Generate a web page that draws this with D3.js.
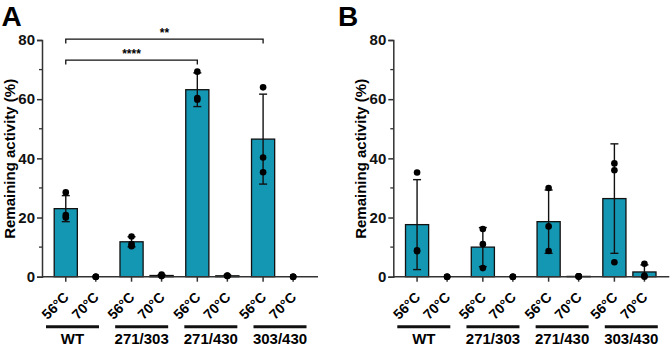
<!DOCTYPE html>
<html>
<head>
<meta charset="utf-8">
<script src="https://cdn.jsdelivr.net/npm/d3@7"></script>
<style>
  body { margin: 0; background: #fff; }
  svg { display: block; font-family: Arial, "Liberation Sans", sans-serif; }
</style>
</head>
<body>
<div id="chart"></div>
<script>
//Datos
const groups = ['WT', '271/303', '271/430', '303/430'];
const temps = ['56°C', '70°C'];
const yTicks = [0, 20, 40, 60, 80];
const yMinorTicks = [10, 30, 50, 70];

//Panel A: media, desviación y réplicas (orden WT56, WT70, 271/303 56, ...)
const meanA = [23.0, 0, 11.8, 0.4, 63.2, 0.3, 46.5, 0];
const sdA = [4.4, 0, 1.7, 0.3, 5.7, 0.2, 15.2, 0];
const pointsA = [
    [28.5, 20.8, 20.0], [0, 0, 0],
    [13.6, 11.0, 10.3], [0.7, 0.3, 0.2],
    [69.3, 59.8, 60.4], [0.4, 0.3, 0.2],
    [64.0, 40.3, 35.3], [0, 0, 0]
];
const sigA = [
    { from: 'WT', to: '271/430', level: 73.2, label: '****' },
    { from: 'WT', to: '303/430', level: 80.3, label: '**' }
];

//Panel B
const meanB = [17.6, 0, 10.0, 0, 18.6, 0.1, 26.4, 1.6];
const sdB = [15.2, 0, 6.6, 0, 10.7, 0, 18.5, 2.4];
const pointsB = [
    [35.2, 8.9, 8.6], [0, 0, 0],
    [16.1, 11.0, 2.9], [0, 0, 0],
    [30.0, 17.0, 8.7], [0.1, 0.1, 0.1],
    [38.3, 36.0, 4.9], [4.4, 0.4, 0]
];
const sigB = [];

//Colores
const COLOR_BAR = '#1497b3',
      COLOR_AXIS = '#333';

let W = 670, H = 346;

let svg = d3.select('#chart').append('svg')
    .attr('width', W)
    .attr('height', H);

function drawPanel(axisX, letter, letterX, means, sds, points, sigs) {
    let top = 40, bottom = 276.7, axisLen = 276;

    let g = svg.append('g');

    let y = d3.scaleLinear().domain([0, 80]).range([bottom, top]);

    let x0 = d3.scaleBand()
        .domain(groups)
        .range([axisX + 5.9, axisX + 269]);

    let x1 = d3.scaleBand()
        .domain(temps)
        .range([0, x0.bandwidth()])
        .paddingInner(0.23)
        .paddingOuter(0.21);

    //Posición de las líneas de grupo bajo las etiquetas
    let xLine = d3.scalePoint()
        .domain(groups)
        .range([axisX + 30.5, axisX + 238]);

    let rows = [];
    groups.forEach(function(gr, i) {
        temps.forEach(function(t, j) {
            let k = i * 2 + j;
            rows.push({ group: gr, temp: t, mean: means[k], sd: sds[k], pts: points[k] });
        });
    });
    let cx = function(d) { return x0(d.group) + x1(d.temp) + x1.bandwidth() / 2; };

    //Letra del panel
    g.append('text')
        .attr('x', letterX)
        .attr('y', 26)
        .attr('font-size', 28)
        .attr('font-weight', 'bold')
        .text(letter);

    //Barras
    g.selectAll('.bar')
        .data(rows)
        .enter()
        .append('rect')
        .attr('class', 'bar')
        .attr('x', function(d) { return x0(d.group) + x1(d.temp); })
        .attr('width', x1.bandwidth())
        .attr('y', function(d) { return y(d.mean); })
        .attr('height', function(d) { return y(0) - y(d.mean); })
        .attr('fill', COLOR_BAR)
        .attr('stroke', '#111')
        .attr('stroke-width', 1.3);

    //Barras de error
    let err = g.selectAll('.err')
        .data(rows.filter(function(d) { return d.sd > 0; }))
        .enter()
        .append('g')
        .attr('class', 'err')
        .attr('stroke', '#111')
        .attr('stroke-width', 1.4);

    err.append('line')
        .attr('x1', cx).attr('x2', cx)
        .attr('y1', function(d) { return y(Math.max(0, d.mean - d.sd)); })
        .attr('y2', function(d) { return y(d.mean + d.sd); });
    err.append('line')
        .attr('x1', function(d) { return cx(d) - 4; })
        .attr('x2', function(d) { return cx(d) + 4; })
        .attr('y1', function(d) { return y(d.mean + d.sd); })
        .attr('y2', function(d) { return y(d.mean + d.sd); });
    err.append('line')
        .attr('x1', function(d) { return cx(d) - 4; })
        .attr('x2', function(d) { return cx(d) + 4; })
        .attr('y1', function(d) { return y(Math.max(0, d.mean - d.sd)); })
        .attr('y2', function(d) { return y(Math.max(0, d.mean - d.sd)); });

    //Ejes
    let yAxis = g.append('g')
        .attr('transform', 'translate(' + axisX + ',0)')
        .call(d3.axisLeft(y).tickValues(yTicks).tickSize(5).tickPadding(2));
    yAxis.select('.domain').attr('stroke', COLOR_AXIS).attr('stroke-width', 1.5);
    yAxis.selectAll('.tick line').attr('stroke', COLOR_AXIS).attr('stroke-width', 1.5);
    yAxis.selectAll('.tick text')
        .attr('font-size', 15)
        .attr('font-weight', 'bold')
        .attr('font-family', 'Arial, "Liberation Sans", sans-serif')
        .attr('fill', '#111');

    g.append('g')
        .selectAll('line')
        .data(yMinorTicks)
        .enter()
        .append('line')
        .attr('x1', axisX - 3).attr('x2', axisX)
        .attr('y1', function(d) { return y(d); })
        .attr('y2', function(d) { return y(d); })
        .attr('stroke', COLOR_AXIS)
        .attr('stroke-width', 1.3);

    g.append('line')
        .attr('x1', axisX).attr('x2', axisX + axisLen)
        .attr('y1', y(0)).attr('y2', y(0))
        .attr('stroke', COLOR_AXIS)
        .attr('stroke-width', 1.5);

    g.selectAll('.xtick')
        .data(rows)
        .enter()
        .append('line')
        .attr('class', 'xtick')
        .attr('x1', cx).attr('x2', cx)
        .attr('y1', y(0)).attr('y2', y(0) + 5)
        .attr('stroke', COLOR_AXIS)
        .attr('stroke-width', 1.5);

    g.selectAll('.xlabel')
        .data(rows)
        .enter()
        .append('text')
        .attr('class', 'xlabel')
        .attr('transform', function(d) { return 'translate(' + (cx(d) + 0.5) + ',' + (y(0) + 18) + ') rotate(-45)'; })
        .attr('text-anchor', 'end')
        .attr('dy', '0.35em')
        .attr('font-size', 14)
        .attr('font-weight', 'bold')
        .text(function(d) { return d.temp; });

    //Líneas y nombres de grupo
    g.selectAll('.gline')
        .data(groups)
        .enter()
        .append('line')
        .attr('class', 'gline')
        .attr('x1', function(d) { return xLine(d) - 26.5; })
        .attr('x2', function(d) { return xLine(d) + 26.5; })
        .attr('y1', 326.7).attr('y2', 326.7)
        .attr('stroke', '#111')
        .attr('stroke-width', 3);

    g.selectAll('.glabel')
        .data(groups)
        .enter()
        .append('text')
        .attr('class', 'glabel')
        .attr('x', function(d) { return xLine(d); })
        .attr('y', 343.5)
        .attr('text-anchor', 'middle')
        .attr('font-size', 15)
        .attr('font-weight', 'bold')
        .text(function(d) { return d; });

    //Puntos de réplica
    rows.forEach(function(d) {
        g.selectAll(null)
            .data(d.pts)
            .enter()
            .append('circle')
            .attr('cx', cx(d))
            .attr('cy', function(v) { return y(v); })
            .attr('r', 3.3)
            .attr('fill', '#000');
    });

    //Título del eje Y
    g.append('text')
        .attr('transform', 'translate(' + (axisX - 32.5) + ',' + ((top + bottom) / 2 + 0.5) + ') rotate(-90)')
        .attr('text-anchor', 'middle')
        .attr('dy', '0.35em')
        .attr('font-size', 15)
        .attr('font-weight', 'bold')
        .text('Remaining activity (%)');

    //Significancia
    sigs.forEach(function(s) {
        let xa = x0(s.from) + x1(temps[0]) + x1.bandwidth() / 2,
            xb = x0(s.to) + x1(temps[0]) + x1.bandwidth() / 2,
            yy = y(s.level);
        g.append('path')
            .attr('d', 'M' + xa + ',' + (yy + 4.5) + 'V' + yy + 'H' + xb + 'V' + (yy + 4.5))
            .attr('fill', 'none')
            .attr('stroke', '#111')
            .attr('stroke-width', 1.3);
        g.append('text')
            .attr('x', (xa + xb) / 2)
            .attr('y', yy - 2)
            .attr('text-anchor', 'middle')
            .attr('font-size', 12)
            .attr('font-weight', 'bold')
            .text(s.label);
    });
}

drawPanel(42, 'A', 1.5, meanA, sdA, pointsA, sigA);
drawPanel(393.3, 'B', 338, meanB, sdB, pointsB, sigB);
</script>
</body>
</html>
